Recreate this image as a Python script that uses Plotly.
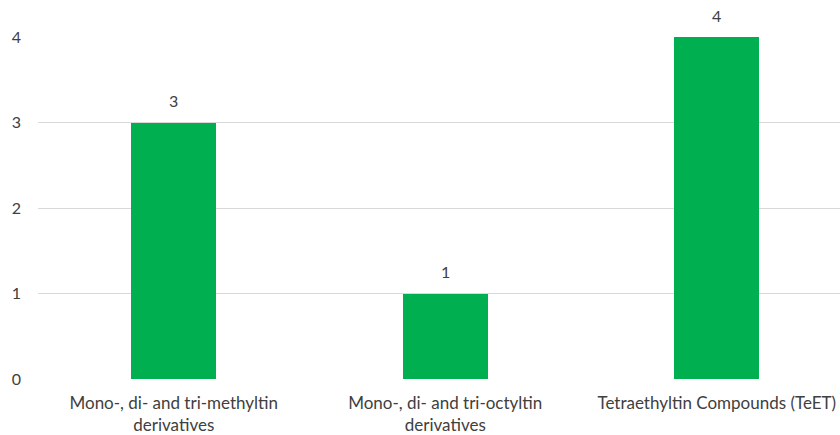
import plotly.graph_objects as go

categories = ["Mono-, di- and tri-methyltin<br>derivatives",
              "Mono-, di- and tri-octyltin<br>derivatives",
              "Tetraethyltin Compounds (TeET)"]
values = [3, 1, 4]
y_ticks = [0, 1, 2, 3, 4]

FONT = "Lato"
TXT = "#404040"

x_pos = list(range(len(categories)))

fig = go.Figure(go.Bar(
    x=x_pos, y=values,
    marker=dict(color="#00B050", line=dict(width=0)),
    width=0.313,
    cliponaxis=False,
    hoverinfo="skip",
))

for xi, v in zip(x_pos, values):
    fig.add_annotation(x=xi, y=v, text=str(v), showarrow=False,
                       yshift=22, font=dict(family=FONT, size=16, color=TXT))

fig.update_layout(
    width=840, height=435,
    margin=dict(l=38, r=0, t=37, b=56, autoexpand=False),
    plot_bgcolor="white", paper_bgcolor="white",
    showlegend=False,
    font=dict(family=FONT, size=17, color=TXT),
    bargap=0,
)
fig.update_xaxes(
    range=[-0.5, 2.454], automargin=False,
    tickmode="array", tickvals=x_pos, ticktext=categories,
    showgrid=False, zeroline=False, showline=False, ticks="",
    ticklabelstandoff=12,
    tickfont=dict(family=FONT, size=17, color=TXT),
)
fig.update_yaxes(
    range=[0, 4], tickmode="array", tickvals=y_ticks, automargin=False,
    showgrid=True, gridcolor="#D9D9D9", gridwidth=1,
    zeroline=False, showline=False, ticks="",
    ticklabelstandoff=16,
    tickfont=dict(family=FONT, size=16, color=TXT),
)

fig.write_html("out.html",
               config={"displayModeBar": False},
               post_script="document.body.style.margin='0';document.body.style.overflow='hidden';")
